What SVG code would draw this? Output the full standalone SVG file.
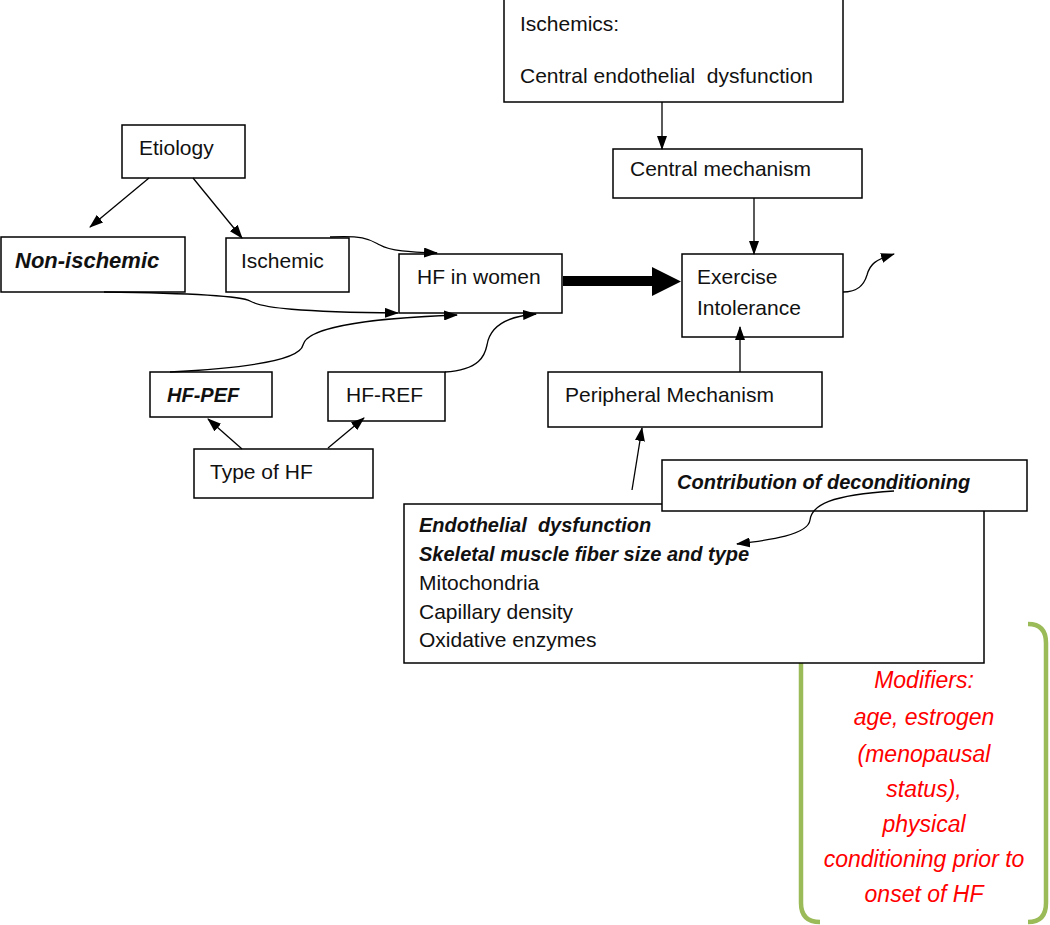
<svg xmlns="http://www.w3.org/2000/svg" width="1050" height="925" viewBox="0 0 1050 925">
<style>
.box{fill:#fff;stroke:#000;stroke-width:1.5}
.t{font-family:"Liberation Sans",Arial,sans-serif;font-size:21px;fill:#111}
.bi{font-family:"Liberation Sans",Arial,sans-serif;font-weight:bold;font-style:italic;fill:#111}
.red{font-family:"Liberation Sans",Arial,sans-serif;font-style:italic;font-size:23px;fill:#ff0000;text-anchor:middle}
.c{fill:none;stroke:#000;stroke-width:1.3}
.br{fill:none;stroke:#9bbb59;stroke-width:4.5}
</style>
<defs>
<marker id="ah" markerWidth="14" markerHeight="10" refX="13" refY="5" orient="auto" markerUnits="userSpaceOnUse">
<path d="M0,0 L14,5 L0,10 Z" fill="#000"/>
</marker>
</defs>
<rect width="1050" height="925" fill="#fff"/>

<g id="modifiers">
<path class="br" d="M820,624 Q801,624 801,643 L801,903 Q801,922 820,922"/>
<path class="br" d="M1028,624 Q1046,624 1046,643 L1046,903 Q1046,922 1028,922"/>
<text class="red" x="924" y="688">Modifiers:</text>
<text class="red" x="924" y="725">age, estrogen</text>
<text class="red" x="924" y="762">(menopausal</text>
<text class="red" x="924" y="797">status),</text>
<text class="red" x="924" y="832">physical</text>
<text class="red" x="924" y="867">conditioning prior to</text>
<text class="red" x="924" y="902">onset of HF</text>
</g>

<g id="ischemics">
<rect class="box" x="504" y="-1" width="339" height="103"/>
<text class="t" x="520" y="31">Ischemics:</text>
<text class="t" x="520" y="83" xml:space="preserve">Central endothelial  dysfunction</text>
</g>
<g id="central">
<rect class="box" x="613" y="149" width="249" height="49"/>
<text class="t" x="630" y="176">Central mechanism</text>
</g>
<g id="etiology">
<rect class="box" x="122" y="125" width="123" height="53"/>
<text class="t" x="139" y="155">Etiology</text>
</g>
<g id="nonischemic">
<rect class="box" x="1" y="237" width="184" height="55"/>
<text class="bi" x="15" y="268" font-size="22">Non-ischemic</text>
</g>
<g id="ischemic">
<rect class="box" x="226" y="238" width="123" height="54"/>
<text class="t" x="241" y="268">Ischemic</text>
</g>
<g id="hfwomen">
<rect class="box" x="399" y="254" width="163" height="59"/>
<text class="t" x="417" y="284">HF in women</text>
</g>
<g id="exercise">
<rect class="box" x="682" y="254" width="161" height="83"/>
<text class="t" x="697" y="284">Exercise</text>
<text class="t" x="697" y="315">Intolerance</text>
</g>
<g id="hfpef">
<rect class="box" x="150" y="372" width="122" height="45"/>
<text class="bi" x="167" y="402" font-size="20">HF-PEF</text>
</g>
<g id="hfref">
<rect class="box" x="328" y="372" width="117" height="49"/>
<text class="t" x="346" y="402">HF-REF</text>
</g>
<g id="typehf">
<rect class="box" x="194" y="449" width="179" height="49"/>
<text class="t" x="210" y="479">Type of HF</text>
</g>
<g id="peripheral">
<rect class="box" x="548" y="372" width="274" height="55"/>
<text class="t" x="565" y="402">Peripheral Mechanism</text>
</g>
<g id="factors">
<rect class="box" x="404" y="504" width="580" height="159"/>
<text class="bi" x="419" y="532" font-size="20" xml:space="preserve">Endothelial  dysfunction</text>
<text class="bi" x="419" y="561" font-size="20">Skeletal muscle fiber size and type</text>
<text class="t" x="419" y="590">Mitochondria</text>
<text class="t" x="419" y="619">Capillary density</text>
<text class="t" x="419" y="647">Oxidative enzymes</text>
</g>
<g id="deconditioning">
<rect class="box" x="662" y="460" width="365" height="51"/>
<text class="bi" x="677" y="489" font-size="20">Contribution of deconditioning</text>
</g>

<g id="connectors">
<line class="c" x1="149" y1="178" x2="90" y2="227" marker-end="url(#ah)"/>
<line class="c" x1="193" y1="178" x2="242" y2="238" marker-end="url(#ah)"/>
<path class="c" d="M330,237 C365,235 370,240 380,245 C390,251 410,252 437,253" marker-end="url(#ah)"/>
<path class="c" d="M104,292 C180,293 240,295 250,301 C262,308 300,312 398,313" marker-end="url(#ah)"/>
<path class="c" d="M170,372 C250,368 300,360 303,345 C307,325 380,318 457,315" marker-end="url(#ah)"/>
<path class="c" d="M445,372 C480,370 485,355 487,345 C490,325 510,316 536,314" marker-end="url(#ah)"/>
<line class="c" x1="242" y1="449" x2="208" y2="419" marker-end="url(#ah)"/>
<line class="c" x1="328" y1="448" x2="364" y2="418" marker-end="url(#ah)"/>
<path d="M563,276 L652,276 L652,267 L681,281.5 L652,296 L652,286 L563,286 Z" fill="#000"/>
<line class="c" x1="662" y1="102" x2="662" y2="149" marker-end="url(#ah)"/>
<line class="c" x1="754" y1="198" x2="754" y2="254" marker-end="url(#ah)"/>
<line class="c" x1="740" y1="372" x2="740" y2="327" marker-end="url(#ah)"/>
<line class="c" x1="632" y1="490" x2="642" y2="428" marker-end="url(#ah)"/>
<path class="c" d="M894,491 C830,495 812,505 810,520 C808,535 770,540 737,544" marker-end="url(#ah)"/>
<path class="c" d="M843,292 C858,292 864,285 867,275 C870,264 875,260 894,254" marker-end="url(#ah)"/>
</g>
</svg>
